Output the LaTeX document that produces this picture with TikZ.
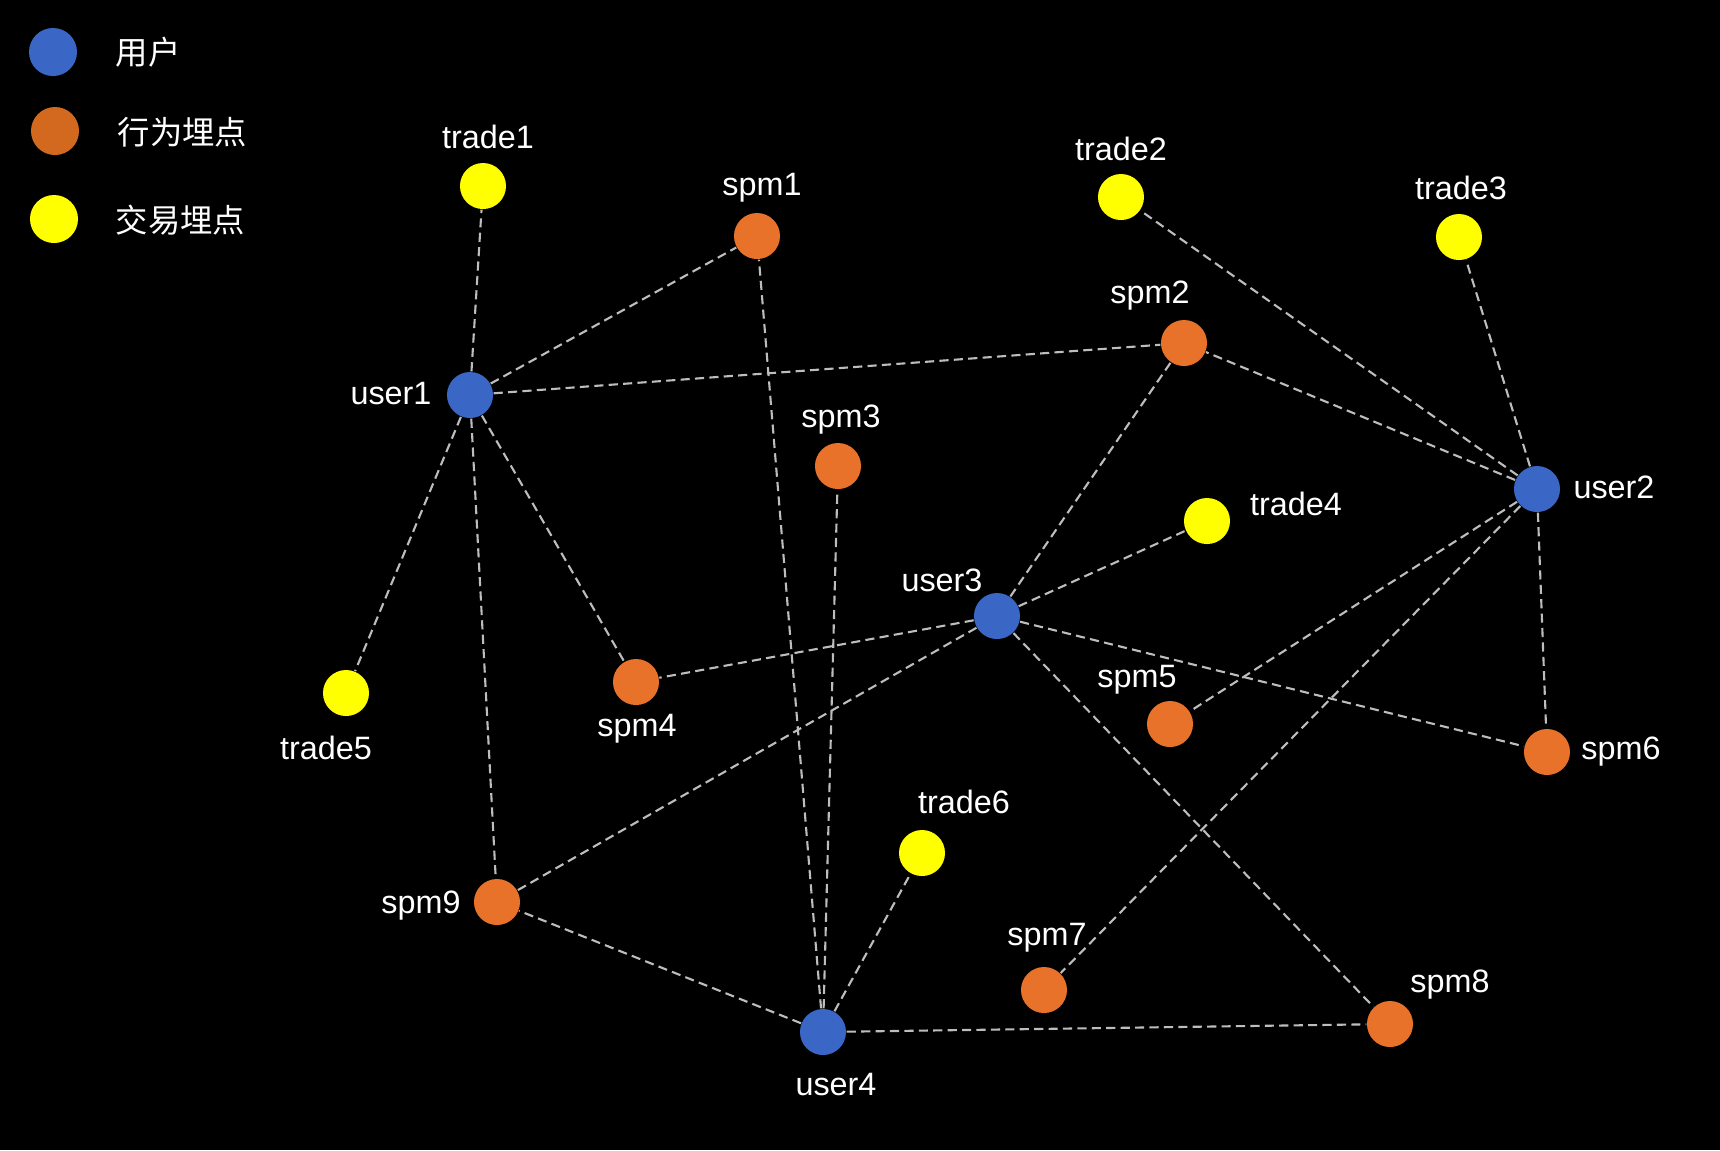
\documentclass[tikz,border=0pt]{standalone}
\usepackage{fontspec}
\setmainfont{Liberation Sans}
\newfontfamily\cjk{Noto Sans CJK SC}
\usepackage{xcolor}
\usepackage{tikz}
\usetikzlibrary{positioning}
\definecolor{userblue}{HTML}{3A67C6}
\definecolor{spmorange}{HTML}{E8722A}
\definecolor{legorange}{HTML}{D2691E}
\definecolor{tradeyellow}{HTML}{FFFF00}
\definecolor{edgegray}{HTML}{BDBDBD}
\tikzstyle{dot} = [circle, minimum size=0.46cm, inner sep=0pt]
\tikzstyle{user} = [dot, fill=userblue]
\tikzstyle{spm} = [dot, fill=spmorange]
\tikzstyle{trade} = [dot, fill=tradeyellow]
\tikzstyle{lbl} = [text=white, font=\fontsize{9.2pt}{11pt}\selectfont, inner sep=0pt]
\tikzstyle{link} = [edgegray, line width=0.6pt, dash pattern=on 2.6pt off 1.5pt]

\begin{document}
\begin{tikzpicture}[x=0.01cm, y=-0.01cm]
    \fill[black] (0,0) rectangle (1720,1150);
    \useasboundingbox (0,0) rectangle (1720,1150);

    % legend
    \node (legu) [dot, minimum size=0.48cm, fill=userblue] at (53,52) {};
    \node (legs) [dot, minimum size=0.48cm, fill=legorange] at (55,131) {};
    \node (legt) [dot, minimum size=0.48cm, fill=tradeyellow] at (54,219) {};
    \node (legutxt) [lbl, anchor=west] at (115,52) {\cjk 用户};
    \node (legstxt) [lbl, anchor=west] at (117,132) {\cjk 行为埋点};
    \node (legttxt) [lbl, anchor=west] at (115,220) {\cjk 交易埋点};

    % users
    \node (user1) [user] at (470,395) {};
    \node (user2) [user] at (1537,489) {};
    \node (user3) [user] at (997,616) {};
    \node (user4) [user] at (823,1032) {};

    % trades
    \node (trade1) [trade] at (483,186) {};
    \node (trade2) [trade] at (1121,197) {};
    \node (trade3) [trade] at (1459,237) {};
    \node (trade4) [trade] at (1207,521) {};
    \node (trade5) [trade] at (346,693) {};
    \node (trade6) [trade] at (922,853) {};

    % spms
    \node (spm1) [spm] at (757,236) {};
    \node (spm2) [spm] at (1184,343) {};
    \node (spm3) [spm] at (838,466) {};
    \node (spm4) [spm] at (636,682) {};
    \node (spm5) [spm] at (1170,724) {};
    \node (spm6) [spm] at (1547,752) {};
    \node (spm7) [spm] at (1044,990) {};
    \node (spm8) [spm] at (1390,1024) {};
    \node (spm9) [spm] at (497,902) {};

    % labels
    \node (user1lbl) [lbl] at (391,394) {user1};
    \node (user2lbl) [lbl] at (1614,487) {user2};
    \node (user3lbl) [lbl] at (942,580) {user3};
    \node (user4lbl) [lbl] at (836,1085) {user4};
    \node (trade1lbl) [lbl] at (488,137) {trade1};
    \node (trade2lbl) [lbl] at (1121,149) {trade2};
    \node (trade3lbl) [lbl] at (1461,188) {trade3};
    \node (trade4lbl) [lbl] at (1296,504) {trade4};
    \node (trade5lbl) [lbl] at (326,748) {trade5};
    \node (trade6lbl) [lbl] at (964,802) {trade6};
    \node (spm1lbl) [lbl] at (762,188) {spm1};
    \node (spm2lbl) [lbl] at (1150,296) {spm2};
    \node (spm3lbl) [lbl] at (841,420) {spm3};
    \node (spm4lbl) [lbl] at (637,729) {spm4};
    \node (spm5lbl) [lbl] at (1137,680) {spm5};
    \node (spm6lbl) [lbl] at (1621,752) {spm6};
    \node (spm7lbl) [lbl] at (1047,938) {spm7};
    \node (spm8lbl) [lbl] at (1450,985) {spm8};
    \node (spm9lbl) [lbl] at (421,906) {spm9};

    % links
    \draw [link] (user1) -- (trade1);
    \draw [link] (user1) -- (spm1);
    \draw [link] (user1) -- (spm2);
    \draw [link] (user1) -- (trade5);
    \draw [link] (user1) -- (spm9);
    \draw [link] (user1) -- (spm4);
    \draw [link] (user2) -- (trade2);
    \draw [link] (user2) -- (trade3);
    \draw [link] (user2) -- (spm2);
    \draw [link] (user2) -- (spm5);
    \draw [link] (user2) -- (spm7);
    \draw [link] (user2) -- (spm6);
    \draw [link] (user3) -- (spm2);
    \draw [link] (user3) -- (trade4);
    \draw [link] (user3) -- (spm4);
    \draw [link] (user3) -- (spm9);
    \draw [link] (user3) -- (spm6);
    \draw [link] (user3) -- (spm8);
    \draw [link] (user4) -- (spm1);
    \draw [link] (user4) -- (spm3);
    \draw [link] (user4) -- (trade6);
    \draw [link] (user4) -- (spm9);
    \draw [link] (user4) -- (spm8);
\end{tikzpicture}
\end{document}
